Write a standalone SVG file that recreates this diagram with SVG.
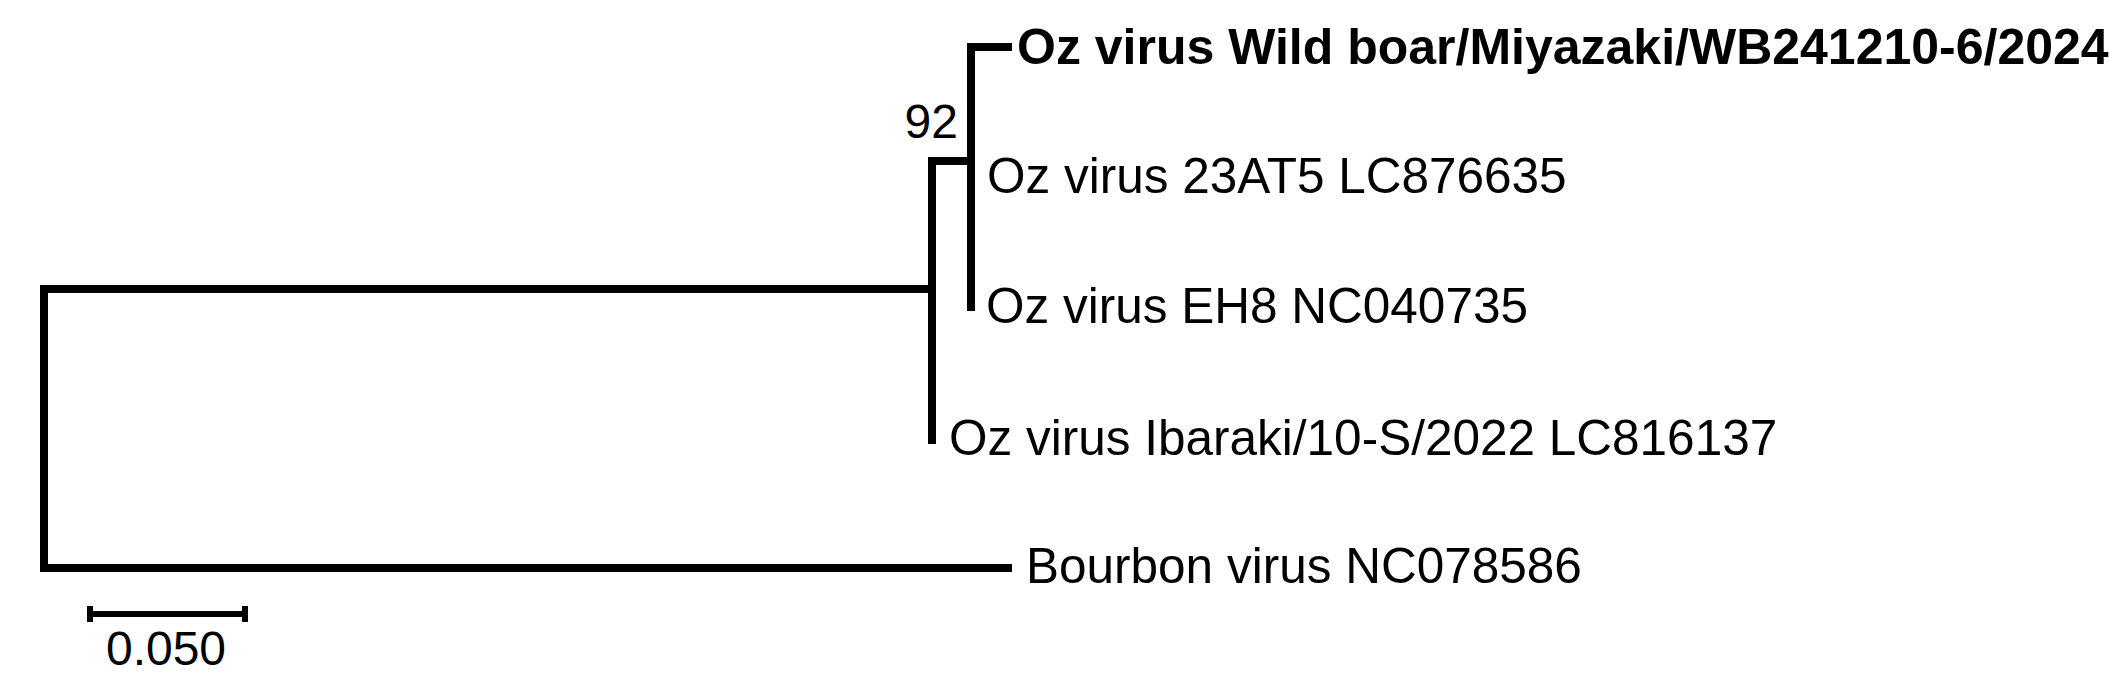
<svg xmlns="http://www.w3.org/2000/svg" width="2126" height="685" viewBox="0 0 2126 685">
<style>
.br{stroke:#000;stroke-width:8;fill:none;stroke-linecap:square}
.lb{font-family:"Liberation Sans",Arial,sans-serif;font-size:49.5px;fill:#000}
.bold{font-weight:bold;font-size:50px}
.bs{font-family:"Liberation Sans",Arial,sans-serif;font-size:48px;fill:#000}
</style>
<rect width="2126" height="685" fill="#fff"/>
<g id="connectors">
<path class="br" d="M44,289 V568"/>
<path class="br" d="M44,568 H1008"/>
<path class="br" d="M44,289 H932"/>
<path class="br" d="M932,161 V440"/>
<path class="br" d="M932,161 H971"/>
<path class="br" d="M971,47 V307"/>
<path class="br" d="M971,47 H1008"/>
</g>
<g id="node-wildboar"><text class="lb bold" x="1017" y="64">Oz virus Wild boar/Miyazaki/WB241210-6/2024</text></g>
<g id="node-23AT5"><text class="lb" x="987" y="193">Oz virus 23AT5 LC876635</text></g>
<g id="node-EH8"><text class="lb" x="986" y="323">Oz virus EH8 NC040735</text></g>
<g id="node-ibaraki"><text class="lb" x="949" y="455">Oz virus Ibaraki/10-S/2022 LC816137</text></g>
<g id="node-bourbon"><text class="lb" x="1026" y="583">Bourbon virus NC078586</text></g>
<g id="bootstrap"><text class="bs" x="958" y="138" text-anchor="end">92</text></g>
<g id="scalebar">
<path stroke="#000" stroke-width="6" fill="none" d="M87,614 H248"/>
<path stroke="#000" stroke-width="6" fill="none" d="M90,606 V622 M245,606 V622"/>
<text class="bs" x="166" y="665" text-anchor="middle">0.050</text>
</g>
</svg>
